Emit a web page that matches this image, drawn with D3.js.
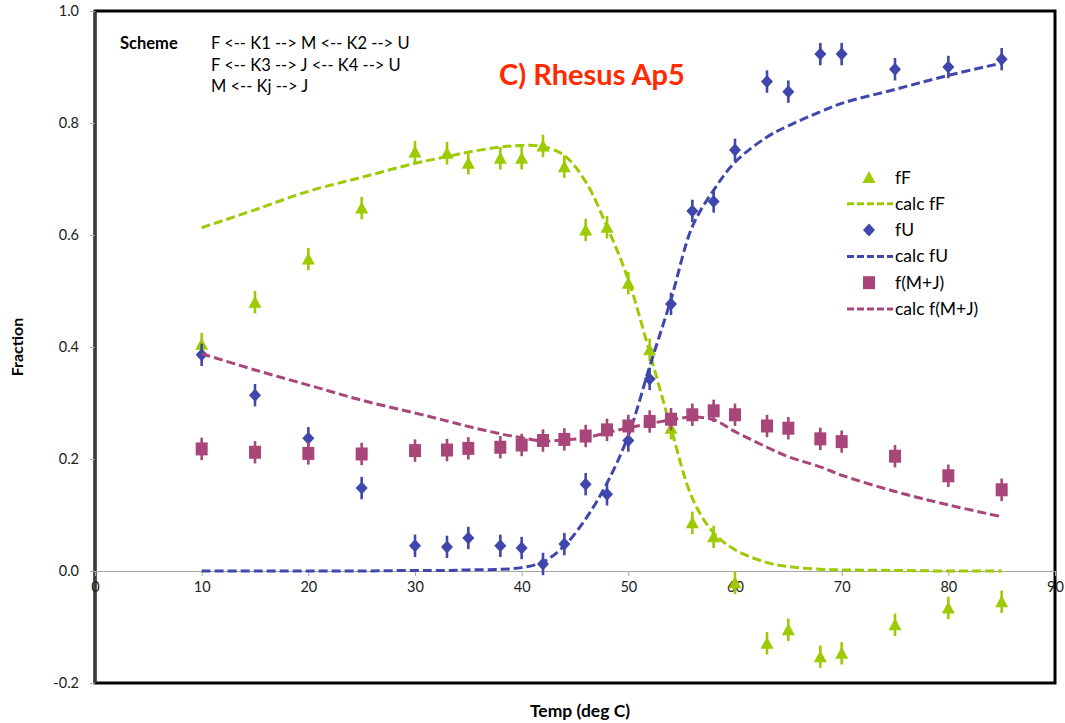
<!DOCTYPE html>
<html>
<head>
<meta charset="utf-8">
<script src="https://cdn.jsdelivr.net/npm/d3@7"></script>
<style>
  html, body { margin: 0; padding: 0; background: #fff; }
  svg { display: block; font-family: Lato, "Open Sans", "DejaVu Sans", sans-serif; }
</style>
</head>
<body>
<svg id="chart" width="1065" height="723"></svg>
<script>
// ---- data ----
const temps = [10,15,20,25,30,33,35,38,40,42,44,46,48,50,52,54,56,58,60,63,65,68,70,75,80,85];
const fF    = [0.405,0.48,0.557,0.648,0.748,0.746,0.728,0.737,0.737,0.759,0.722,0.609,0.614,0.514,0.395,0.255,0.086,0.061,-0.021,-0.129,-0.105,-0.153,-0.147,-0.096,-0.066,-0.055];
const fU    = [0.386,0.314,0.237,0.148,0.045,0.043,0.059,0.045,0.041,0.0125,0.048,0.155,0.137,0.233,0.343,0.477,0.643,0.66,0.752,0.874,0.856,0.923,0.923,0.896,0.90,0.914];
const fMJ   = [0.218,0.212,0.21,0.209,0.215,0.216,0.219,0.221,0.225,0.233,0.235,0.241,0.252,0.259,0.267,0.271,0.279,0.286,0.279,0.259,0.255,0.236,0.231,0.205,0.170,0.145];
const calcF = [0.613,0.645,0.678,0.703,0.728,0.740,0.748,0.757,0.760,0.758,0.742,0.695,0.615,0.52,0.39,0.255,0.13,0.068,0.038,0.015,0.008,0.003,0.002,0.001,0,0];
const calcU = [0,0,0,0,0.001,0.001,0.002,0.003,0.006,0.016,0.045,0.093,0.157,0.242,0.365,0.485,0.615,0.68,0.73,0.775,0.795,0.82,0.835,0.86,0.885,0.907];
const calcMJ= [0.388,0.359,0.332,0.305,0.282,0.268,0.258,0.245,0.238,0.232,0.234,0.238,0.247,0.256,0.263,0.27,0.275,0.27,0.249,0.221,0.204,0.186,0.171,0.142,0.118,0.097];
const errBar = 0.02;

const xTickValues = [0,10,20,30,40,50,60,70,80,90];
const yTickValues = [-0.2,0.0,0.2,0.4,0.6,0.8,1.0];

const titleText = "C) Rhesus Ap5";
const schemeLabel = "Scheme";
const schemeLines = ["F <-- K1 --> M <-- K2 --> U", "F <-- K3 --> J <-- K4 --> U", "M <-- Kj --> J"];
const legendLabels = ["fF","calc fF","fU","calc fU","f(M+J)","calc f(M+J)"];

// ---- styles ----
const GREEN = "#9BCB00", BLUE = "#3F47AC", PURPLE = "#A8467A";

const svg = d3.select("#chart");
const L = 95, R = 1055, T = 11, B = 683;
const x = d3.scaleLinear().domain([0, 90]).range([L, R]);
const y = d3.scaleLinear().domain([-0.2, 1.0]).range([B, T]);

// frame
svg.append("rect").attr("x", L).attr("y", T).attr("width", R - L).attr("height", B - T)
  .attr("fill", "none").attr("stroke", "#000").attr("stroke-width", 3);
svg.append("line").attr("x1", L).attr("x2", L).attr("y1", T).attr("y2", B)
  .attr("stroke", "#3a3a3a").attr("stroke-width", 3);

// x axis at y = 0
const xAxis = svg.append("g").attr("transform", `translate(0,${y(0)})`)
  .call(d3.axisBottom(x).tickValues(xTickValues).tickSize(5).tickSizeOuter(0).tickPadding(6).tickFormat(d => String(d)));
xAxis.select(".domain").attr("stroke", "#a6a6a6").attr("stroke-width", 1.2);
xAxis.selectAll(".tick line").attr("stroke", "#a6a6a6");
xAxis.selectAll(".tick text").attr("font-size", 14.5).attr("fill", "#222").attr("font-family", "Lato, sans-serif");

// y axis
const yAxis = svg.append("g").attr("transform", `translate(${L},0)`)
  .call(d3.axisLeft(y).tickValues(yTickValues).tickSize(5).tickSizeOuter(0).tickPadding(11).tickFormat(d => d.toFixed(1)));
yAxis.select(".domain").remove();
yAxis.selectAll(".tick line").attr("stroke", "#a6a6a6");
yAxis.selectAll(".tick text").attr("font-size", 14.5).attr("fill", "#222").attr("font-family", "Lato, sans-serif");

// axis titles
svg.append("text").attr("x", 580).attr("y", 717).attr("text-anchor", "middle")
  .attr("font-weight", "bold").attr("font-size", 17.5).text("Temp (deg C)");
svg.append("text").attr("transform", "translate(23,347) rotate(-90)").attr("text-anchor", "middle")
  .attr("font-weight", "bold").attr("font-size", 16).text("Fraction");

// markers
const triPath = "M0,-6.5L6.5,5.5L-6.5,5.5Z";
const diaPath = "M0,-6.5L6,0L0,6.5L-6,0Z";
const sqPath  = "M-6,-6.5L6,-6.5L6,6.5L-6,6.5Z";

const line = d3.line().x(d => x(d[0])).y(d => y(d[1])).curve(d3.curveCatmullRom.alpha(0.5));

function drawPoints(vals, color, path) {
  const g = svg.append("g");
  const pts = temps.map((t, i) => [t, vals[i]]);
  g.selectAll("line.err").data(pts).join("line")
    .attr("x1", d => x(d[0])).attr("x2", d => x(d[0]))
    .attr("y1", d => y(d[1] - errBar)).attr("y2", d => y(d[1] + errBar))
    .attr("stroke", color).attr("stroke-width", 2.6);
  g.selectAll("path.m").data(pts).join("path")
    .attr("d", path).attr("fill", color)
    .attr("transform", d => `translate(${x(d[0])},${y(d[1])})`);
}
function drawCurve(vals, color) {
  const pts = temps.map((t, i) => [t, vals[i]]);
  svg.append("path").datum(pts).attr("d", line).attr("fill", "none")
    .attr("stroke", color).attr("stroke-width", 3).attr("stroke-dasharray", "9,4");
}

drawPoints(fF, GREEN, triPath);
drawCurve(calcF, GREEN);
drawPoints(fU, BLUE, diaPath);
drawCurve(calcU, BLUE);
drawPoints(fMJ, PURPLE, sqPath);
drawCurve(calcMJ, PURPLE);

// legend
const legend = svg.append("g");
const legendColors = [GREEN, GREEN, BLUE, BLUE, PURPLE, PURPLE];
const legendMarkers = [triPath, null, diaPath, null, sqPath, null];
legendLabels.forEach((lab, i) => {
  const cy = 177.5 + i * 26.3;
  if (legendMarkers[i]) {
    legend.append("path").attr("d", legendMarkers[i]).attr("fill", legendColors[i])
      .attr("transform", `translate(869,${cy})`);
  } else {
    legend.append("line").attr("x1", 847).attr("x2", 893).attr("y1", cy).attr("y2", cy)
      .attr("stroke", legendColors[i]).attr("stroke-width", 3).attr("stroke-dasharray", "7,3");
  }
  legend.append("text").attr("x", 895).attr("y", cy + 6).attr("font-size", 17.5).attr("fill", "#000").text(lab);
});

// scheme text
svg.append("text").attr("x", 120).attr("y", 49).attr("font-weight", "bold").attr("font-size", 16.5).text(schemeLabel);
schemeLines.forEach((s, i) => {
  svg.append("text").attr("x", 211).attr("y", 49 + i * 21.7).attr("font-size", 16.5).text(s);
});

// title
svg.append("text").attr("x", 592).attr("y", 85).attr("text-anchor", "middle")
  .attr("font-weight", "bold").attr("font-size", 29).attr("fill", "#FF2A00").text(titleText);
</script>
</body>
</html>
